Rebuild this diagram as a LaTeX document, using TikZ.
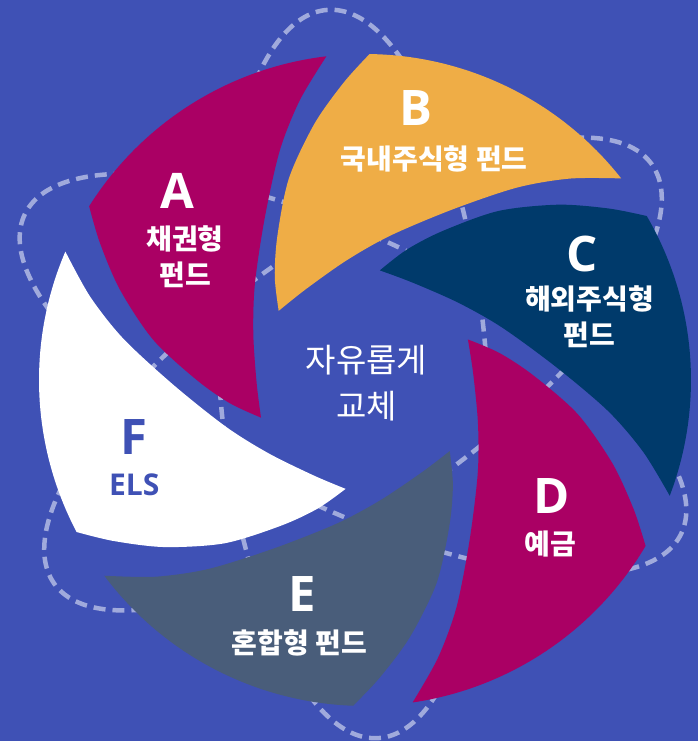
\documentclass[tikz,border=0pt]{standalone}
\usepackage{fontspec}
\setmainfont{Open Sans}
\newfontfamily\krfont{Noto Sans CJK KR}
\definecolor{bgblue}{RGB}{63,81,181}
\definecolor{dashblue}{RGB}{160,170,220}
\definecolor{bladeplum}{RGB}{170,0,100}
\definecolor{bladegold}{RGB}{239,173,70}
\definecolor{bladenavy}{RGB}{0,58,107}
\definecolor{bladeslate}{RGB}{73,93,122}

\tikzset{
  letter/.style={text=white, inner sep=0pt, font=\bfseries\fontsize{49}{49}\selectfont},
  fundlabel/.style={text=white, inner sep=0pt, align=center, font=\krfont\bfseries\fontsize{28}{36}\selectfont},
  orbit/.style={dashblue, line width=4.5pt, dash pattern=on 12pt off 7pt},
}

\begin{document}
\begin{tikzpicture}[x=1pt, y=1pt]
	% background
	\fill[bgblue] (0,0) rectangle (698,741);
	\useasboundingbox (0,0) rectangle (698,741);
	
	% dashed orbits behind the blades
	\foreach \ang in {94,35,154}
		\draw[orbit, rotate around={\ang:(353,367)}] (353,367) ellipse [x radius=365, y radius=134];
	
	% six blades, one shape turned round the middle
	\foreach \rot/\col in {0/bladeplum, -58.6/bladegold, -117.6/bladenavy, -178.4/bladeplum, -239.9/bladeslate, -300/white}
		\fill[\col, shift={(365,361)}, rotate=\rot]
			plot[smooth] coordinates {(199.9:110.6) (189.8:137) (180:168.3) (169.3:215.4) (159.8:261) (152.7:298.2) (147.8:326)}
			arc[start angle=147.8, end angle=96.8, radius=326]
			-- plot[smooth] coordinates {(96.8:326) (103.1:287.4) (110.3:245.2) (121.5:191.5) (138.7:146.5) (157.3:121.1) (181.7:108.4) (199.9:110.6)}
			-- cycle;
	
	% labels
	\node[letter] (lA) at (177.5,549.7) {A};
	\node[fundlabel] (tA) at (185,483.9) {채권형\\펀드};
	\node[letter] (lB) at (416.3,633) {B};
	\node[fundlabel] (tB) at (434.2,582) {국내주식형 펀드};
	\node[letter] (lC) at (581.7,486.8) {C};
	\node[fundlabel] (tC) at (589.5,423.8) {해외주식형\\펀드};
	\node[letter] (lD) at (551.4,245.3) {D};
	\node[fundlabel] (tD) at (550.5,196.6) {예금};
	\node[letter] (lE) at (302.5,146.8) {E};
	\node[fundlabel] (tE) at (299.2,98.5) {혼합형 펀드};
	\node[letter, text=bgblue] (lF) at (134.2,304.3) {F};
	\node[text=bgblue, inner sep=0pt, font=\bfseries\fontsize{30}{30}\selectfont] (tF) at (134.2,256) {ELS};
	\node[text=white, inner sep=0pt, align=center, font=\krfont\fontsize{33}{46}\selectfont] (swap) at (366.5,358) {자유롭게\\교체};

\end{tikzpicture}
\end{document}
